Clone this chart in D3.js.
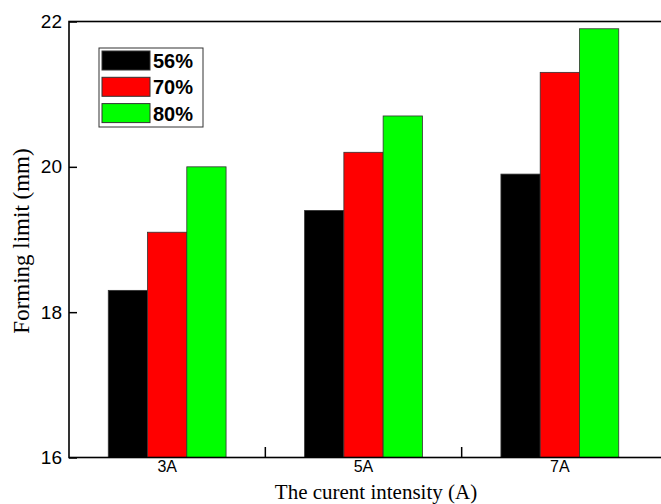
<!DOCTYPE html>
<html>
<head>
<meta charset="utf-8">
<script src="https://cdn.jsdelivr.net/npm/d3@7"></script>
<style>
  body { margin: 0; background: #fff; }
  svg { display: block; }
</style>
</head>
<body>
<div id="chart"></div>
<script>
// values
var categories = ["3A", "5A", "7A"];
var seriesNames = ["56%", "70%", "80%"];
var seriesColors = ["#000000", "#ff0000", "#00ff00"];
var values56 = [18.3, 19.4, 19.9];
var values70 = [19.1, 20.2, 21.3];
var values80 = [20.0, 20.7, 21.9];
var yTicks = [16, 18, 20, 22];

var allValues = [values56, values70, values80];

var W = 661, H = 504;
var margin = {top: 21, right: -10, bottom: 47, left: 69},
    width = W - margin.left - margin.right,
    height = H - margin.top - margin.bottom;

var svg = d3.select("#chart").append("svg")
    .attr("width", W)
    .attr("height", H);

var g = svg.append("g")
    .attr("transform", "translate(" + margin.left + "," + margin.top + ")");

var x = d3.scaleBand().domain(categories)
    .range([0, 589]).paddingInner(0.4).paddingOuter(0.2);
var x1 = d3.scaleBand().domain(seriesNames).range([0, x.bandwidth()]);
var y = d3.scaleLinear().domain([16, 22]).range([height + 0.5, 0.5]);

// bars
var groups = g.selectAll(".grp")
    .data(categories)
    .enter().append("g")
    .attr("transform", function(d) { return "translate(" + x(d) + ",0)"; });

groups.selectAll("rect")
    .data(function(d, i) {
      return seriesNames.map(function(s, j) { return {s: s, v: allValues[j][i], c: seriesColors[j]}; });
    })
    .enter().append("rect")
    .attr("x", function(d) { return x1(d.s); })
    .attr("y", function(d) { return y(d.v); })
    .attr("width", x1.bandwidth())
    .attr("height", function(d) { return y(16) - y(d.v); })
    .attr("fill", function(d) { return d.c; })
    .attr("stroke", "#333")
    .attr("stroke-width", 0.8);

// frame
g.append("rect")
    .attr("x", 0).attr("y", 0.5)
    .attr("width", width + 20).attr("height", height)
    .attr("fill", "none")
    .attr("stroke", "#000")
    .attr("stroke-width", 1.6);

// y axis
var yAxis = d3.axisLeft(y).tickValues(yTicks).tickFormat(d3.format("d"))
    .tickSizeInner(-8).tickSizeOuter(0).tickPadding(7);
var ya = g.append("g").call(yAxis);
ya.select(".domain").remove();
ya.selectAll("line").attr("stroke-width", 1.5);
ya.selectAll("text")
    .style("font-family", "Arial, 'Liberation Sans', sans-serif")
    .style("font-size", "19px")
    .attr("fill", "#000");

// x axis
var xAxis = d3.axisBottom(x).tickSizeInner(0).tickSizeOuter(0).tickPadding(3);
var xa = g.append("g").attr("transform", "translate(0," + (height + 0.5) + ")").call(xAxis);
xa.select(".domain").remove();
xa.selectAll("text")
    .style("font-family", "Arial, 'Liberation Sans', sans-serif")
    .style("font-size", "16px")
    .attr("fill", "#000");

// minor ticks between groups
var mids = [];
for (var i = 0; i < categories.length - 1; i++) {
  mids.push((x(categories[i]) + x(categories[i + 1]) + x.bandwidth()) / 2);
}
g.selectAll(".mtick").data(mids).enter().append("line")
    .attr("x1", function(d) { return d; }).attr("x2", function(d) { return d; })
    .attr("y1", height).attr("y2", height - 10)
    .attr("stroke", "#000").attr("stroke-width", 1.5);

// axis titles
svg.append("text")
    .attr("transform", "translate(29,241) rotate(-90)")
    .attr("text-anchor", "middle")
    .style("font-family", "'Liberation Serif', 'Times New Roman', serif")
    .style("font-size", "23px")
    .text("Forming limit (mm)");

svg.append("text")
    .attr("x", 376).attr("y", 499)
    .attr("text-anchor", "middle")
    .style("font-family", "'Liberation Serif', 'Times New Roman', serif")
    .style("font-size", "21px")
    .text("The curent intensity (A)");

// legend
var legend = svg.append("g").attr("transform", "translate(99,48)");
legend.append("rect")
    .attr("width", 104).attr("height", 79)
    .attr("fill", "#fff").attr("stroke", "#333").attr("stroke-width", 1);
var items = legend.selectAll(".item").data(seriesNames).enter().append("g")
    .attr("transform", function(d, i) { return "translate(3," + (3 + i * 26.3) + ")"; });
items.append("rect")
    .attr("width", 48).attr("height", 19)
    .attr("fill", function(d, i) { return seriesColors[i]; })
    .attr("stroke", "#333").attr("stroke-width", 1);
items.append("text")
    .attr("x", 51).attr("y", 17)
    .style("font-family", "Arial, 'Liberation Sans', sans-serif")
    .style("font-size", "20px")
    .style("font-weight", "bold")
    .text(function(d) { return d; });
</script>
</body>
</html>
